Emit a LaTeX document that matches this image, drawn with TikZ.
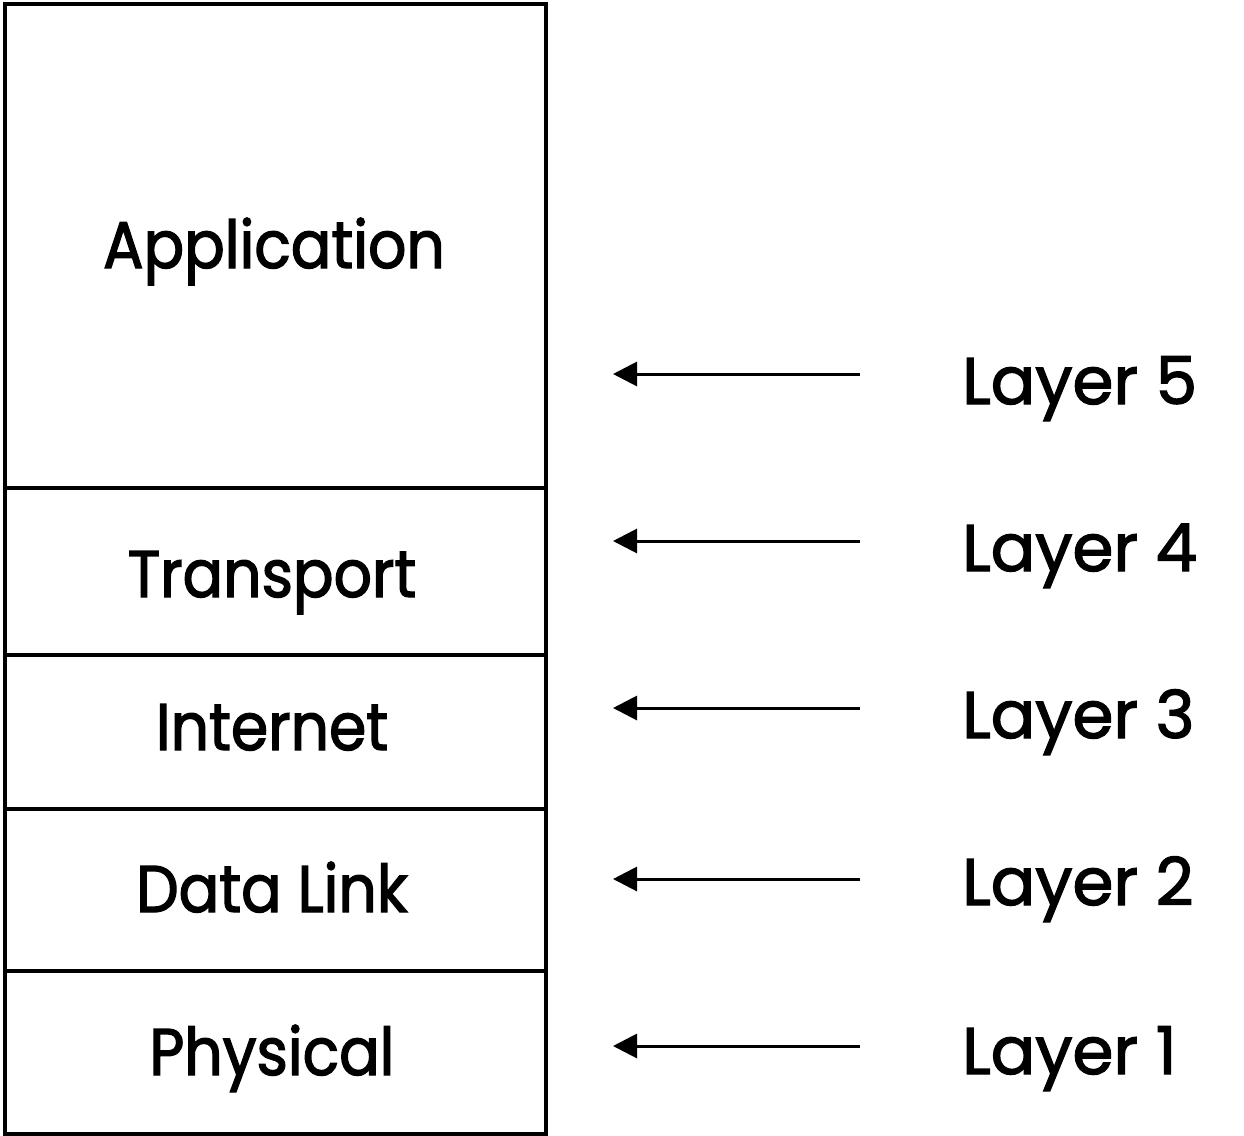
\documentclass[tikz,border=0pt]{standalone}
\usepackage{fontspec}
\setmainfont[FakeBold=2]{Poppins}
\newfontfamily\boxfont[FakeStretch=0.91,FakeBold=2]{Poppins}
\usetikzlibrary{arrows.meta}
\begin{document}
\begin{tikzpicture}[x=1pt,y=-1pt,
  layerbox/.style={draw=black,line width=4pt,minimum width=541pt,inner sep=0pt,anchor=north west},
  layertext/.style={font=\boxfont\fontsize{66}{70}\selectfont,anchor=base,inner sep=0pt},
  lbl/.style={font=\fontsize{66}{70}\selectfont,anchor=base west,inner sep=0pt},
  pointer/.style={line width=3pt,-{Triangle[length=24pt,width=24pt]}}]
\useasboundingbox (0,0) rectangle (1244,1135);
\node[layerbox,minimum height=484pt] (app) at (3,2) {};
\node[layerbox,minimum height=167pt] (tra) at (3,486) {};
\node[layerbox,minimum height=154pt] (int) at (3,653) {};
\node[layerbox,minimum height=162pt] (dat) at (3,807) {};
\node[layerbox,minimum height=163pt] (phy) at (3,969) {};
\node[layertext] (tapp) at (274,268) {Application};
\node[layertext] (ttra) at (272,597) {Transport};
\node[layertext] (tint) at (272,750) {Internet};
\node[layertext] (tdat) at (272,912) {Data Link};
\node[layertext] (tphy) at (272,1075) {Physical};
\node[lbl] (l5) at (962,404) {Layer 5};
\node[lbl] (l4) at (962,571) {Layer 4};
\node[lbl] (l3) at (962,738) {Layer 3};
\node[lbl] (l2) at (962,905) {Layer 2};
\node[lbl] (l1) at (962,1074) {Layer 1};
\foreach \n/\y in {5/374,4/541,3/708,2/879,1/1046}{
  \coordinate (s\n) at (860,\y);
  \coordinate (e\n) at (613,\y);
  \draw[pointer] (s\n) -- (e\n);
}
\end{tikzpicture}
\end{document}
